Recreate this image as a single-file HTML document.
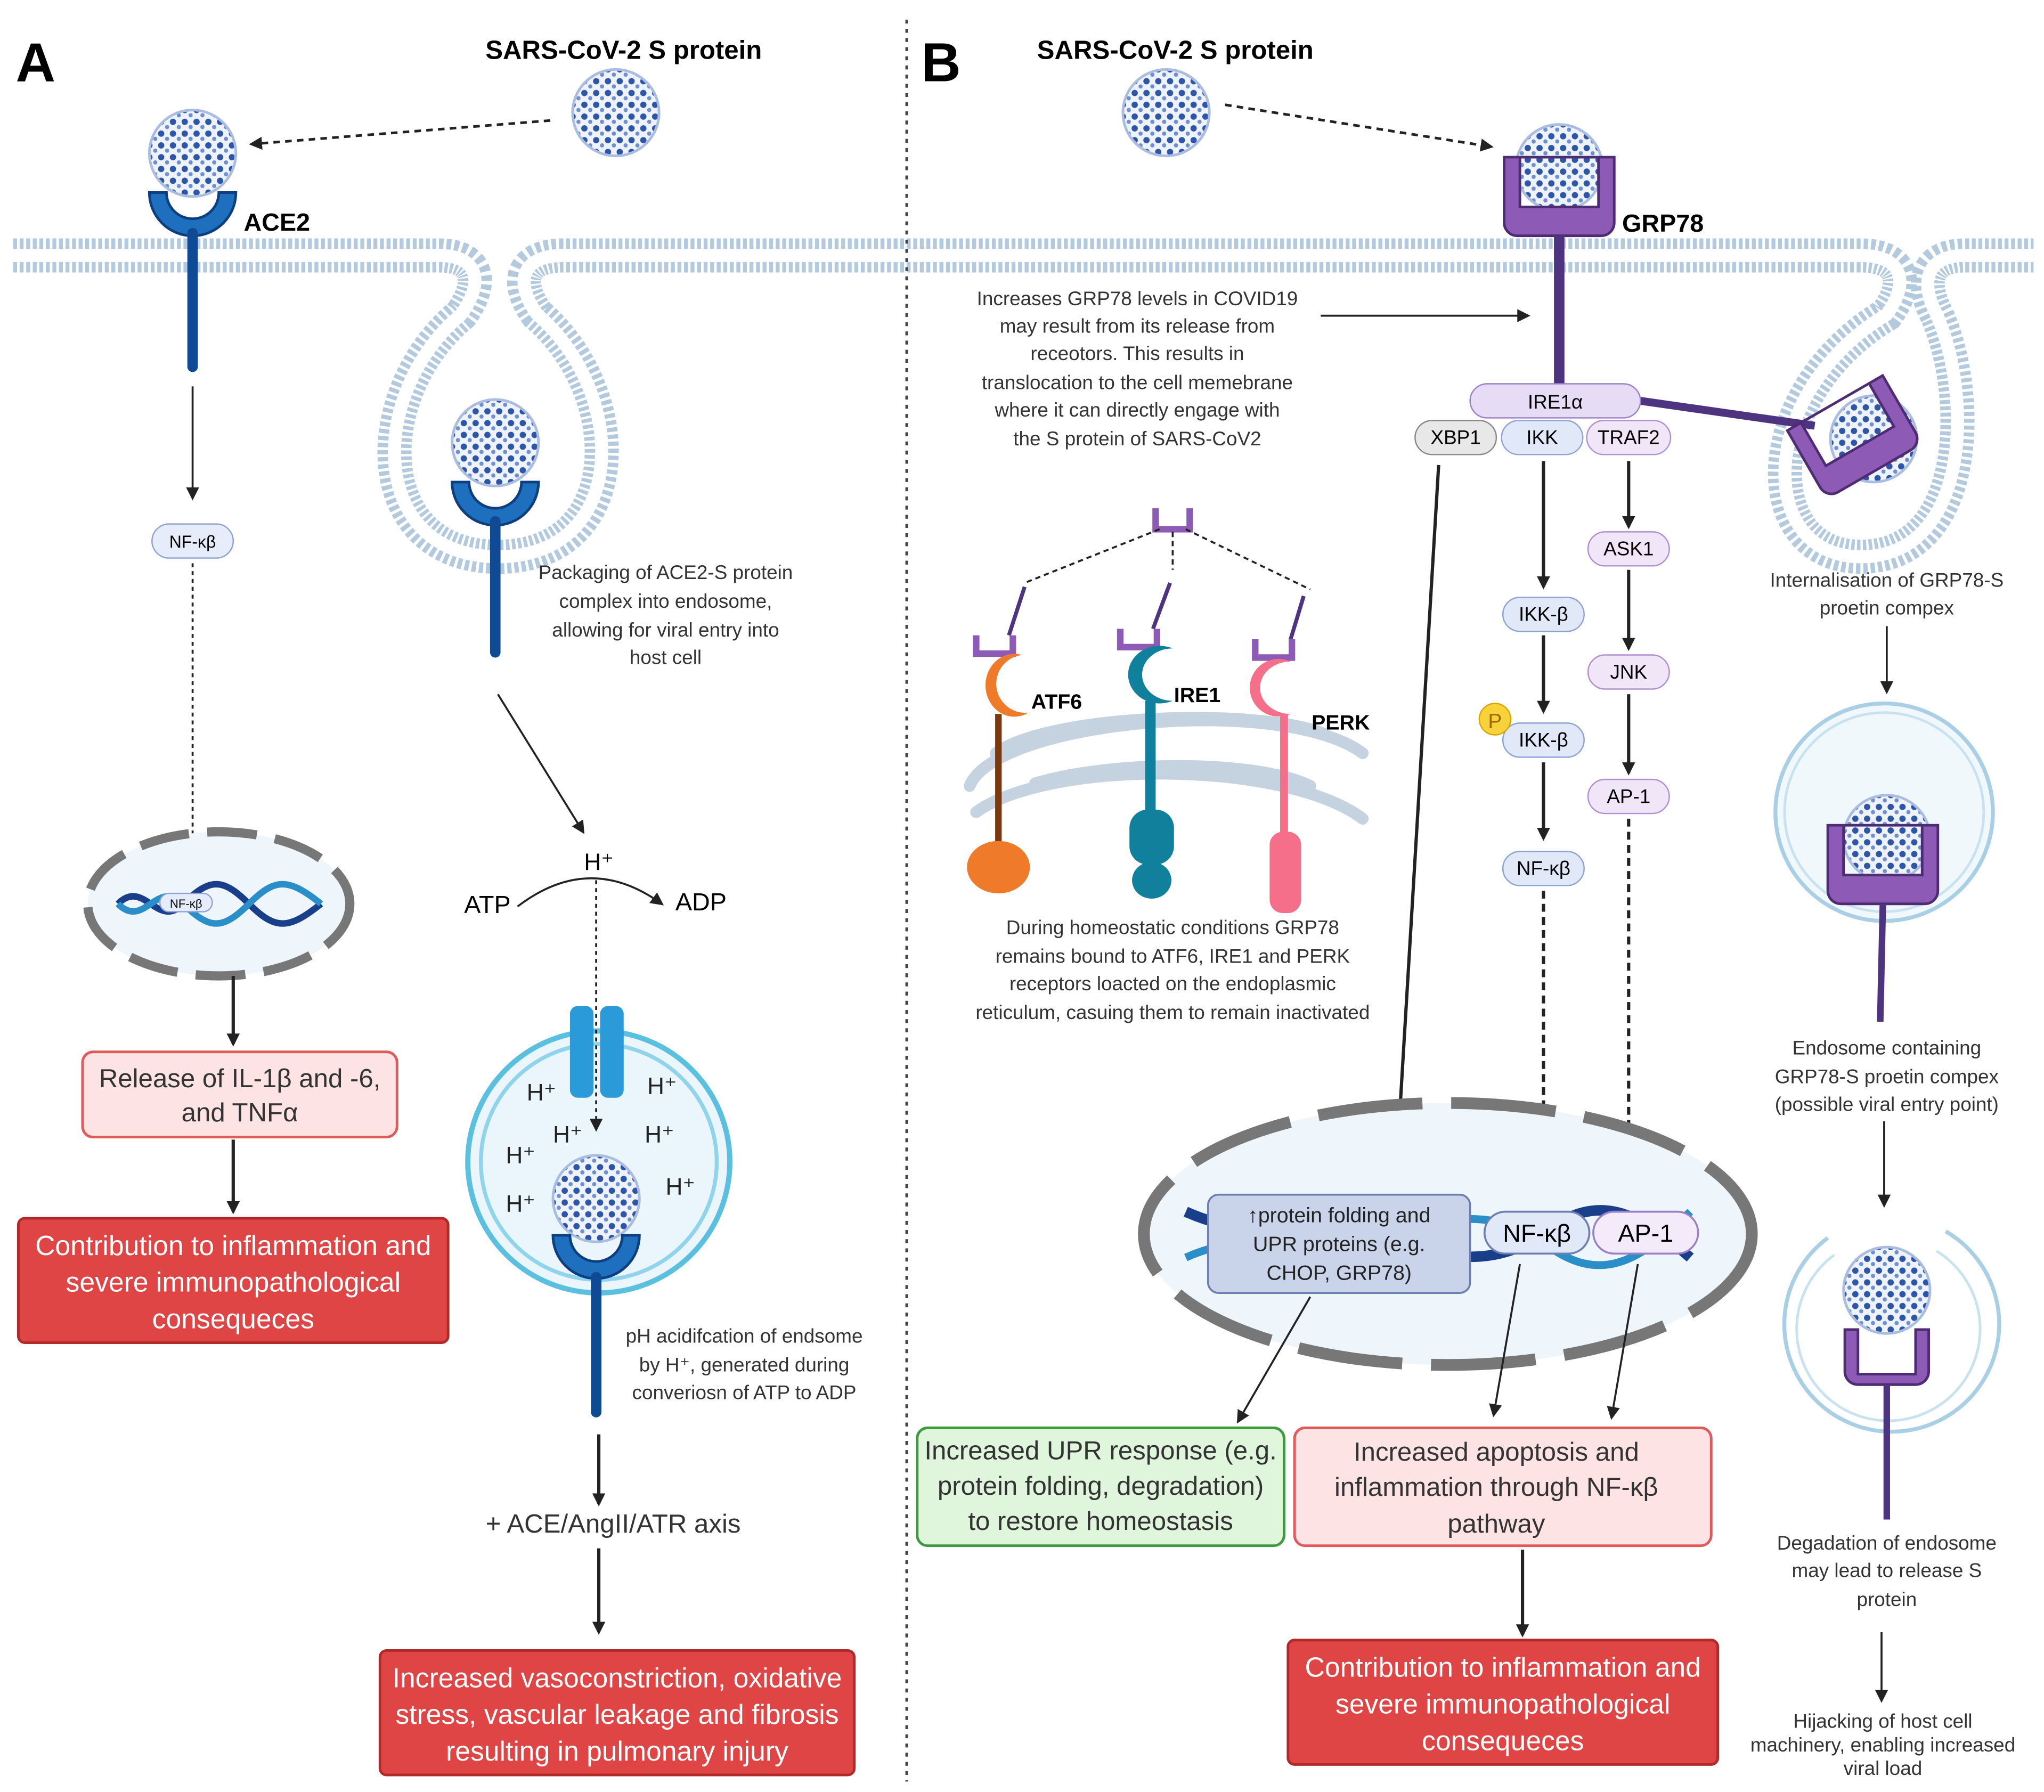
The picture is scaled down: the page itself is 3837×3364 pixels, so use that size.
<!DOCTYPE html>
<html><head><meta charset="utf-8"><style>
html,body{margin:0;padding:0;background:#fff}
svg{display:block}
text{font-family:"Liberation Sans",sans-serif}
</style></head><body>
<svg width="3837" height="3364" viewBox="0 0 1560 1368" preserveAspectRatio="none" xmlns="http://www.w3.org/2000/svg">
<defs>
<pattern id="dots" width="9" height="9" patternUnits="userSpaceOnUse">
<rect width="9" height="9" fill="#eef2fa"/>
<circle cx="3" cy="3" r="2.4" fill="#2d55a8"/><circle cx="7.5" cy="7" r="1.6" fill="#6e8fd0"/>
</pattern>
<g id="vir"><circle r="33" fill="url(#dots)" stroke="#aabde0" stroke-width="2"/></g>
<marker id="ah" markerWidth="10" markerHeight="10" refX="8" refY="5" orient="auto" markerUnits="userSpaceOnUse"><path d="M0,0 L10,5 L0,10 z" fill="#222"/></marker>
<g id="ace"><path d="M-33,0 A33,33 0 0 0 33,0 L20,0 A20,20 0 0 1 -20,0 Z" fill="#1f6fbf" stroke="#0d3f80" stroke-width="2"/></g>
<g id="grp"><path d="M-42,-35 h84 v50 a10,10 0 0 1 -10,10 h-64 a10,10 0 0 1 -10,-10 z M-30,-35 v38 h60 v-38" fill="#8d5bb5" stroke="#4e2c73" stroke-width="2" fill-rule="evenodd"/></g>
</defs>
<rect width="1560" height="1368" fill="#fff"/>

<!-- membrane -->
<g fill="none">
<path id="mem" d="M10,195 H335 C365,195 370,215 352,240 C280,300 280,425 380,425 C480,425 480,300 410,240 C392,215 398,195 430,195 H1420 C1452,195 1458,215 1440,240 C1340,300 1340,425 1420,425 C1505,425 1505,300 1478,240 C1465,215 1470,195 1500,195 H1552" stroke="#b3c9de" stroke-width="26" stroke-dasharray="3 2"/>
<path d="M10,195 H335 C365,195 370,215 352,240 C280,300 280,425 380,425 C480,425 480,300 410,240 C392,215 398,195 430,195 H1420 C1452,195 1458,215 1440,240 C1340,300 1340,425 1420,425 C1505,425 1505,300 1478,240 C1465,215 1470,195 1500,195 H1552" stroke="#fff" stroke-width="10"/>
</g>

<line x1="692" y1="15" x2="692" y2="1360" stroke="#444" stroke-width="2" stroke-dasharray="3 4"/>

<!-- Panel A -->
<text x="12" y="62" font-size="42" font-weight="bold">A</text>
<text x="476" y="45" font-size="20" font-weight="bold" text-anchor="middle">SARS-CoV-2 S protein</text>
<use href="#vir" x="470" y="86"/>
<line x1="420" y1="92" x2="192" y2="110" stroke="#222" stroke-width="2" stroke-dasharray="5 4" marker-end="url(#ah)"/>
<use href="#vir" x="147" y="117"/>
<use href="#ace" x="147" y="147"/>
<line x1="147" y1="178" x2="147" y2="280" stroke="#0f4a94" stroke-width="8" stroke-linecap="round"/>
<text x="186" y="176" font-size="19" font-weight="bold">ACE2</text>
<line x1="147" y1="295" x2="147" y2="380" stroke="#222" stroke-width="1.5" marker-end="url(#ah)"/>
<rect x="116" y="400" width="62" height="26" rx="13" fill="#e6ecfa" stroke="#8ea2d6"/>
<text x="147" y="418" font-size="13" text-anchor="middle">NF-κβ</text>
<line x1="147" y1="430" x2="147" y2="665" stroke="#222" stroke-width="1.5" stroke-dasharray="3 3" marker-end="url(#ah)"/>
<ellipse cx="167" cy="690" rx="100" ry="55" fill="#eef6fc" stroke="#777" stroke-width="7" stroke-dasharray="38 14"/>
<path d="M90,690 C110,670 120,710 140,690 S170,670 190,690 S220,710 245,690" fill="none" stroke="#1a3f8a" stroke-width="5"/>
<path d="M90,690 C110,710 120,670 140,690 S170,710 190,690 S220,670 245,690" fill="none" stroke="#2a8fc8" stroke-width="5"/>
<rect x="122" y="682" width="40" height="14" rx="7" fill="#e6ecfa" stroke="#8ea2d6"/>
<text x="142" y="693" font-size="9" text-anchor="middle">NF-κβ</text>
<line x1="178" y1="745" x2="178" y2="797" stroke="#222" stroke-width="2.5" marker-end="url(#ah)"/>
<rect x="63" y="803" width="240" height="65" rx="8" fill="#fde3e3" stroke="#e05a5a" stroke-width="2"/>
<text font-size="20" text-anchor="middle" fill="#333"><tspan x="183" y="830">Release of IL-1β and -6,</tspan><tspan x="183" y="856">and TNFα</tspan></text>
<line x1="178" y1="870" x2="178" y2="925" stroke="#222" stroke-width="2.5" marker-end="url(#ah)"/>
<rect x="14" y="930" width="328" height="95" rx="5" fill="#e04545" stroke="#b02a2a" stroke-width="2"/>
<text font-size="21" text-anchor="middle" fill="#fff"><tspan x="178" y="958">Contribution to inflammation and</tspan><tspan x="178" y="986">severe immunopathological</tspan><tspan x="178" y="1014">consequeces</tspan></text>

<use href="#vir" x="378" y="338"/>
<use href="#ace" x="378" y="368"/>
<line x1="378" y1="398" x2="378" y2="498" stroke="#0f4a94" stroke-width="8" stroke-linecap="round"/>
<text font-size="15" text-anchor="middle" fill="#333"><tspan x="508" y="442">Packaging of ACE2-S protein</tspan><tspan x="508" y="464">complex into endosome,</tspan><tspan x="508" y="486">allowing for viral entry into</tspan><tspan x="508" y="507">host cell</tspan></text>
<line x1="380" y1="530" x2="445" y2="635" stroke="#222" stroke-width="1.5" marker-end="url(#ah)"/>
<text x="457" y="664" font-size="18" text-anchor="middle">H⁺</text>
<text x="372" y="697" font-size="19" text-anchor="middle">ATP</text>
<text x="535" y="695" font-size="19" text-anchor="middle">ADP</text>
<path d="M395,692 Q450,650 505,690" fill="none" stroke="#222" stroke-width="1.5" marker-end="url(#ah)"/>
<circle cx="457" cy="887" r="100" fill="#eaf6fb" stroke="#5bc0e0" stroke-width="4"/>
<circle cx="457" cy="887" r="90" fill="none" stroke="#8fd4ec" stroke-width="3"/>
<rect x="435" y="768" width="18" height="70" rx="6" fill="#2a9ad8"/><rect x="458" y="768" width="18" height="70" rx="6" fill="#2a9ad8"/>
<line x1="455" y1="672" x2="455" y2="862" stroke="#222" stroke-width="1.5" stroke-dasharray="3 3" marker-end="url(#ah)"/>
<g font-size="18" fill="#222"><text x="402" y="840">H⁺</text><text x="494" y="835">H⁺</text><text x="422" y="872">H⁺</text><text x="492" y="872">H⁺</text><text x="386" y="888">H⁺</text><text x="386" y="925">H⁺</text><text x="508" y="912">H⁺</text></g>
<use href="#vir" x="455" y="915"/>
<use href="#ace" x="455" y="943"/>
<line x1="455" y1="975" x2="455" y2="1078" stroke="#0f4a94" stroke-width="8" stroke-linecap="round"/>
<text font-size="15" text-anchor="middle" fill="#333"><tspan x="568" y="1025">pH acidifcation of endsome</tspan><tspan x="568" y="1047">by H⁺, generated during</tspan><tspan x="568" y="1068">converiosn of ATP to ADP</tspan></text>
<line x1="457" y1="1095" x2="457" y2="1148" stroke="#222" stroke-width="2.5" marker-end="url(#ah)"/>
<text x="468" y="1170" font-size="20" text-anchor="middle" fill="#333">+ ACE/AngII/ATR axis</text>
<line x1="457" y1="1182" x2="457" y2="1246" stroke="#222" stroke-width="2.5" marker-end="url(#ah)"/>
<rect x="290" y="1260" width="362" height="95" rx="5" fill="#e04545" stroke="#b02a2a" stroke-width="2"/>
<text font-size="21" text-anchor="middle" fill="#fff"><tspan x="471" y="1288">Increased vasoconstriction, oxidative</tspan><tspan x="471" y="1316">stress, vascular leakage and fibrosis</tspan><tspan x="471" y="1344">resulting in pulmonary injury</tspan></text>

<!-- Panel B -->
<text x="703" y="62" font-size="42" font-weight="bold">B</text>
<text x="897" y="45" font-size="20" font-weight="bold" text-anchor="middle">SARS-CoV-2 S protein</text>
<use href="#vir" x="890" y="86"/>
<line x1="935" y1="80" x2="1138" y2="112" stroke="#222" stroke-width="2" stroke-dasharray="5 4" marker-end="url(#ah)"/>
<use href="#vir" x="1190" y="128"/>
<use href="#grp" x="1190" y="155"/>
<line x1="1190" y1="180" x2="1190" y2="295" stroke="#4e3380" stroke-width="8"/>
<text x="1238" y="177" font-size="19" font-weight="bold">GRP78</text>
<text font-size="15" text-anchor="middle" fill="#333"><tspan x="868" y="233">Increases GRP78 levels in COVID19</tspan><tspan x="868" y="254">may result from its release from</tspan><tspan x="868" y="275">receotors. This results in</tspan><tspan x="868" y="297">translocation to the cell memebrane</tspan><tspan x="868" y="318">where it can directly engage with</tspan><tspan x="868" y="340">the S protein of SARS-CoV2</tspan></text>
<line x1="1008" y1="241" x2="1166" y2="241" stroke="#222" stroke-width="1.5" marker-end="url(#ah)"/>
<line x1="1252" y1="306" x2="1385" y2="325" stroke="#4e3380" stroke-width="6"/>
<use href="#vir" x="1430" y="335"/>
<g transform="translate(1418,338) rotate(-30)"><use href="#grp"/></g>
<rect x="1122" y="293" width="130" height="26" rx="13" fill="#e6dcf5" stroke="#9b7fc9"/>
<text x="1187" y="312" font-size="15" text-anchor="middle">IRE1α</text>
<rect x="1080" y="321" width="62" height="26" rx="13" fill="#e8e8e8" stroke="#888"/>
<text x="1111" y="339" font-size="15" text-anchor="middle">XBP1</text>
<rect x="1146" y="321" width="62" height="26" rx="13" fill="#e1e8f8" stroke="#8ea2d6"/>
<text x="1177" y="339" font-size="15" text-anchor="middle">IKK</text>
<rect x="1211" y="321" width="64" height="26" rx="13" fill="#f1e6f8" stroke="#b08fd0"/>
<text x="1243" y="339" font-size="15" text-anchor="middle">TRAF2</text>

<g stroke="#222" stroke-width="2.5">
<line x1="1178" y1="352" x2="1178" y2="448" marker-end="url(#ah)"/>
<line x1="1178" y1="485" x2="1178" y2="543" marker-end="url(#ah)"/>
<line x1="1178" y1="582" x2="1178" y2="640" marker-end="url(#ah)"/>
<line x1="1243" y1="352" x2="1243" y2="402" marker-end="url(#ah)"/>
<line x1="1243" y1="435" x2="1243" y2="495" marker-end="url(#ah)"/>
<line x1="1243" y1="530" x2="1243" y2="590" marker-end="url(#ah)"/>
<line x1="1178" y1="680" x2="1178" y2="915" stroke-dasharray="6 4" marker-end="url(#ah)"/>
<line x1="1243" y1="625" x2="1243" y2="915" stroke-dasharray="6 4" marker-end="url(#ah)"/>
<line x1="1098" y1="355" x2="1065" y2="905" marker-end="url(#ah)"/>
</g>
<g font-size="15" text-anchor="middle">
<rect x="1147" y="456" width="62" height="26" rx="13" fill="#e1e8f8" stroke="#8ea2d6"/><text x="1178" y="474">IKK-β</text>
<rect x="1147" y="552" width="62" height="26" rx="13" fill="#e1e8f8" stroke="#8ea2d6"/><text x="1178" y="570">IKK-β</text>
<rect x="1147" y="650" width="62" height="26" rx="13" fill="#e1e8f8" stroke="#8ea2d6"/><text x="1178" y="668">NF-κβ</text>
<rect x="1212" y="406" width="62" height="26" rx="13" fill="#f1e6f8" stroke="#b08fd0"/><text x="1243" y="424">ASK1</text>
<rect x="1212" y="500" width="62" height="26" rx="13" fill="#f1e6f8" stroke="#b08fd0"/><text x="1243" y="518">JNK</text>
<rect x="1212" y="595" width="62" height="26" rx="13" fill="#f1e6f8" stroke="#b08fd0"/><text x="1243" y="613">AP-1</text>
</g>
<circle cx="1141" cy="549" r="12" fill="#f7d23a" stroke="#d9a600"/>
<text x="1141" y="556" font-size="16" text-anchor="middle" fill="#a06a00">P</text>

<!-- ER -->
<path d="M882,388 v16 h26 v-16" fill="none" stroke="#8d5bb5" stroke-width="5"/>
<g stroke="#222" stroke-width="1.5" stroke-dasharray="4 3" fill="none"><line x1="885" y1="404" x2="782" y2="445"/><line x1="895" y1="406" x2="895" y2="435"/><line x1="905" y1="404" x2="1000" y2="450"/></g>
<g fill="none" stroke="#c5d3e0" stroke-width="9" stroke-linecap="round">
<path d="M740,600 C760,550 980,530 1040,575"/><path d="M760,575 C800,545 960,540 1010,560"/><path d="M745,620 C800,580 980,580 1040,625"/><path d="M790,598 C850,580 960,580 1000,600"/>
</g>
<!-- ATF6 -->
<line x1="782" y1="448" x2="770" y2="485" stroke="#4e3380" stroke-width="3"/>
<path d="M745,485 v14 h28 v-14" fill="none" stroke="#8d5bb5" stroke-width="5"/>
<path d="M780,500 a22,24 0 1 0 5,44 a14,14 0 0 1 -5,-44 z" fill="#ef7a2a"/>
<line x1="762" y1="545" x2="762" y2="645" stroke="#7a3a10" stroke-width="5"/>
<ellipse cx="762" cy="662" rx="24" ry="20" fill="#ef7a2a"/>
<text x="787" y="541" font-size="16" font-weight="bold">ATF6</text>
<!-- IRE1 -->
<line x1="893" y1="445" x2="880" y2="480" stroke="#4e3380" stroke-width="3"/>
<path d="M855,480 v14 h28 v-14" fill="none" stroke="#8d5bb5" stroke-width="5"/>
<path d="M895,495 a24,22 0 1 0 0,40 a14,12 0 0 1 0,-40 z" fill="#11809c"/>
<line x1="878" y1="535" x2="878" y2="625" stroke="#11809c" stroke-width="8"/>
<rect x="862" y="618" width="34" height="42" rx="14" fill="#11809c"/>
<ellipse cx="879" cy="672" rx="15" ry="14" fill="#11809c"/>
<text x="896" y="536" font-size="16" font-weight="bold">IRE1</text>
<!-- PERK -->
<line x1="995" y1="455" x2="985" y2="488" stroke="#4e3380" stroke-width="3"/>
<path d="M958,488 v14 h28 v-14" fill="none" stroke="#8d5bb5" stroke-width="5"/>
<path d="M985,505 a22,22 0 1 0 0,40 a14,12 0 0 1 0,-40 z" fill="#f56f8a"/>
<line x1="980" y1="545" x2="980" y2="640" stroke="#f56f8a" stroke-width="6"/>
<rect x="969" y="635" width="24" height="62" rx="10" fill="#f56f8a"/>
<text x="1001" y="557" font-size="16" font-weight="bold">PERK</text>
<text font-size="15" text-anchor="middle" fill="#333"><tspan x="895" y="713">During homeostatic conditions GRP78</tspan><tspan x="895" y="735">remains bound to ATF6, IRE1 and PERK</tspan><tspan x="895" y="756">receptors loacted on the endoplasmic</tspan><tspan x="895" y="778">reticulum, casuing them to remain inactivated</tspan></text>

<!-- nucleus B -->
<ellipse cx="1105" cy="942" rx="232" ry="100" fill="#eef6fc" stroke="#777" stroke-width="9" stroke-dasharray="80 22"/>
<path d="M905,925 C960,950 1000,930 1050,945 S1140,970 1180,940 S1250,925 1290,960" fill="none" stroke="#1a3f8a" stroke-width="8"/>
<path d="M905,960 C960,935 1000,960 1050,945 S1140,920 1180,950 S1250,965 1290,925" fill="none" stroke="#2a8fc8" stroke-width="6"/>
<rect x="922" y="912" width="200" height="75" rx="8" fill="#c9d3ea" stroke="#6c7fb0" stroke-width="1.5"/>
<text font-size="16" text-anchor="middle" fill="#222"><tspan x="1022" y="933">↑protein folding and</tspan><tspan x="1022" y="955">UPR proteins (e.g.</tspan><tspan x="1022" y="977">CHOP, GRP78)</tspan></text>
<rect x="1133" y="925" width="80" height="32" rx="16" fill="#e1e8f8" stroke="#6c7fb0" stroke-width="1.5"/>
<text x="1173" y="948" font-size="19" text-anchor="middle">NF-κβ</text>
<rect x="1216" y="925" width="80" height="32" rx="16" fill="#f3eafa" stroke="#9b7fc9" stroke-width="1.5"/>
<text x="1256" y="948" font-size="19" text-anchor="middle">AP-1</text>
<g stroke="#222" stroke-width="1.5">
<line x1="1000" y1="990" x2="945" y2="1085" marker-end="url(#ah)"/>
<line x1="1160" y1="965" x2="1140" y2="1080" marker-end="url(#ah)"/>
<line x1="1250" y1="965" x2="1230" y2="1082" marker-end="url(#ah)"/>
</g>
<rect x="700" y="1090" width="280" height="90" rx="8" fill="#dff5dc" stroke="#3e9a3e" stroke-width="2"/>
<text font-size="20" text-anchor="middle" fill="#333"><tspan x="840" y="1114">Increased UPR response (e.g.</tspan><tspan x="840" y="1141">protein folding, degradation)</tspan><tspan x="840" y="1168">to restore homeostasis</tspan></text>
<rect x="988" y="1090" width="318" height="90" rx="8" fill="#fde3e3" stroke="#e05a5a" stroke-width="2"/>
<text font-size="20" text-anchor="middle" fill="#333"><tspan x="1142" y="1115">Increased apoptosis and</tspan><tspan x="1142" y="1142">inflammation through NF-κβ</tspan><tspan x="1142" y="1170">pathway</tspan></text>
<line x1="1162" y1="1183" x2="1162" y2="1248" stroke="#222" stroke-width="2.5" marker-end="url(#ah)"/>
<rect x="983" y="1252" width="328" height="95" rx="5" fill="#e04545" stroke="#b02a2a" stroke-width="2"/>
<text font-size="21" text-anchor="middle" fill="#fff"><tspan x="1147" y="1280">Contribution to inflammation and</tspan><tspan x="1147" y="1308">severe immunopathological</tspan><tspan x="1147" y="1336">consequeces</tspan></text>

<!-- right column -->
<text font-size="15" text-anchor="middle" fill="#333"><tspan x="1440" y="448">Internalisation of GRP78-S</tspan><tspan x="1440" y="469">proetin compex</tspan></text>
<line x1="1440" y1="478" x2="1440" y2="528" stroke="#222" stroke-width="1.5" marker-end="url(#ah)"/>
<circle cx="1438" cy="620" r="83" fill="#f1f8fc" stroke="#a9cfe6" stroke-width="3"/>
<circle cx="1438" cy="620" r="76" fill="none" stroke="#c9e2f0" stroke-width="2"/>
<use href="#vir" x="1440" y="640"/>
<use href="#grp" x="1437" y="665"/>
<line x1="1437" y1="690" x2="1435" y2="780" stroke="#4e3380" stroke-width="5"/>
<text font-size="15" text-anchor="middle" fill="#333"><tspan x="1440" y="805">Endosome containing</tspan><tspan x="1440" y="827">GRP78-S proetin compex</tspan><tspan x="1440" y="848">(possible viral entry point)</tspan></text>
<line x1="1438" y1="856" x2="1438" y2="920" stroke="#222" stroke-width="1.5" marker-end="url(#ah)"/>
<path d="M1395,945 A82,82 0 1 0 1485,940" fill="none" stroke="#a9cfe6" stroke-width="3"/>
<path d="M1400,958 A70,70 0 1 0 1478,955" fill="none" stroke="#c9e2f0" stroke-width="2"/>
<use href="#vir" x="1440" y="985"/>
<path d="M1408,1015 v32 a10,10 0 0 0 10,10 h44 a10,10 0 0 0 10,-10 v-32 h-10 v34 h-44 v-34 z" fill="#8d5bb5" stroke="#4e2c73" stroke-width="2"/>
<line x1="1440" y1="1058" x2="1440" y2="1160" stroke="#4e3380" stroke-width="5"/>
<text font-size="15" text-anchor="middle" fill="#333"><tspan x="1440" y="1183">Degadation of endosome</tspan><tspan x="1440" y="1204">may lead to release S</tspan><tspan x="1440" y="1226">protein</tspan></text>
<line x1="1436" y1="1246" x2="1436" y2="1298" stroke="#222" stroke-width="1.5" marker-end="url(#ah)"/>
<text font-size="15" text-anchor="middle" fill="#333"><tspan x="1437" y="1319">Hijacking of host cell</tspan><tspan x="1437" y="1337">machinery, enabling increased</tspan><tspan x="1437" y="1355">viral load</tspan></text>
</svg>
</body></html>
